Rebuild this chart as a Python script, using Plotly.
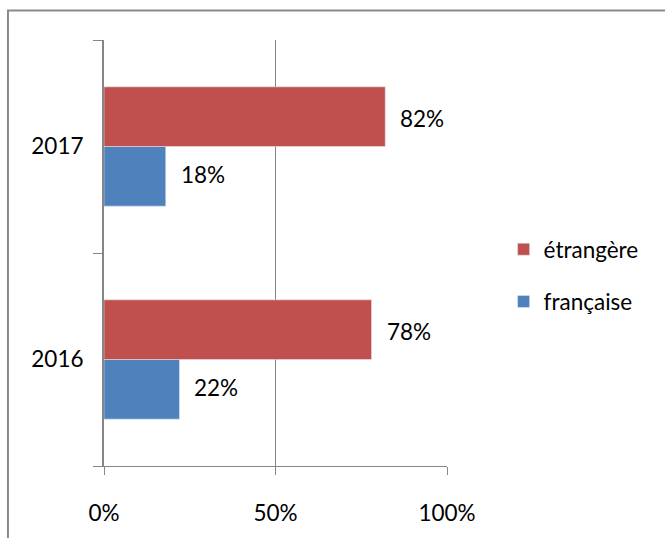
import plotly.graph_objects as go

categories = ["2016", "2017"]
francaise = [22, 18]
etrangere = [78, 82]
x_ticks = [0, 50, 100]
x_tick_labels = ["0%", "50%", "100%"]

FONT = "Lato"
FS = 22.5
fig = go.Figure()
fig.add_trace(go.Bar(y=categories, x=francaise, name="française", orientation="h",
                     marker=dict(color="#4F81BD"), legendgroup="fr", legendrank=2))
fig.add_trace(go.Bar(y=categories, x=etrangere, name="étrangère", orientation="h",
                     marker=dict(color="#C0504D"), legendgroup="et", legendrank=1))

annotations = []
for i, c in enumerate(categories):
    for v, off in ((francaise[i], -0.13), (etrangere[i], 0.13)):
        annotations.append(dict(x=v, y=i + off, xref="x", yref="y", text=f"{v}%",
                                showarrow=False, xanchor="left", xshift=13,
                                font=dict(family=FONT, size=FS, color="#000")))

fig.update_layout(
    width=665, height=538,
    margin=dict(l=104, r=218, t=40, b=64),
    paper_bgcolor="white", plot_bgcolor="white",
    barmode="group", bargap=0.44, bargroupgap=0,
    font=dict(family=FONT, size=FS, color="#000"),
    annotations=annotations,
    legend=dict(x=1.165, y=0.447, xanchor="left", yanchor="middle",
                traceorder="grouped", tracegroupgap=20,
                font=dict(family=FONT, size=FS), itemwidth=30),
    xaxis=dict(range=[0, 100], tickvals=x_ticks, ticktext=x_tick_labels,
               showgrid=True, gridcolor="#868686", gridwidth=1,
               zeroline=False, showline=True, linecolor="#868686", linewidth=1,
               ticks="outside", ticklen=8, tickcolor="#868686",
               ticklabelstandoff=19, fixedrange=True),
    yaxis=dict(type="category", range=[-0.5, 1.5], showgrid=False,
               showline=True, linecolor="#868686", linewidth=2,
               ticks="outside", ticklen=9, tickcolor="#868686", tickson="boundaries",
               ticklabelstandoff=14, fixedrange=True),
    shapes=[dict(type="rect", xref="paper", yref="paper",
                 x0=-0.28, x1=1.8, y0=-0.3, y1=1.069,
                 line=dict(color="#8a8a8a", width=2), fillcolor="rgba(0,0,0,0)",
                 layer="below")],
)
fig.write_html("out.html")
